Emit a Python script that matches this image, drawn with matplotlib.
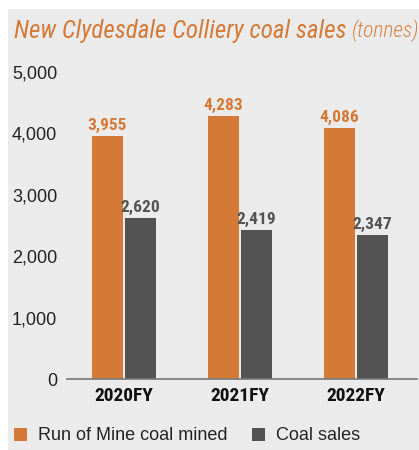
import matplotlib.pyplot as plt
import matplotlib.patches as mpatches
import numpy as np

years = ["2020FY", "2021FY", "2022FY"]
rom_mined = [3955, 4283, 4086]
coal_sales = [2620, 2419, 2347]
yticks = [0, 1000, 2000, 3000, 4000, 5000]

ORANGE = "#D47A36"
GREY = "#535353"
BG = "#EBEBEB"
COND = ['Roboto Condensed', 'DejaVu Sans']
PLAIN = ['Liberation Sans', 'DejaVu Sans']

plt.rcParams['font.family'] = PLAIN

fig = plt.figure(figsize=(4.19, 4.5), dpi=100, facecolor="white")
fig.patches.append(mpatches.Rectangle((8/419, 0), 1, 1 - 9/450, transform=fig.transFigure,
                                      facecolor=BG, edgecolor="none", zorder=-5))

ax = fig.add_axes([67/419, 71/450, 350/419, 307/450])
ax.patch.set_visible(False)

x = np.arange(len(years))
w = 0.267
gap = 0.009
b1 = ax.bar(x - w/2 - gap, rom_mined, w, color=ORANGE, label="Run of Mine coal mined")
b2 = ax.bar(x + w/2 + gap, coal_sales, w, color=GREY, label="Coal sales")

for bars, vals, c in [(b1, rom_mined, ORANGE), (b2, coal_sales, GREY)]:
    for rect, v in zip(bars, vals):
        ax.text(rect.get_x() + rect.get_width()/2, v + 50, f"{v:,}", ha="center", va="bottom",
                color=c, fontsize=12.5, fontweight="bold", family=COND)

ax.set_ylim(0, 5000)
ax.set_xlim(-0.49, 2.53)
ax.set_yticks(yticks)
ax.set_yticklabels([f"{t:,}" for t in yticks], fontsize=13, color="#222222")
ax.set_xticks(x)
ax.set_xticklabels(years, fontsize=14, fontweight="bold", color="#111111", family=COND)
ax.tick_params(length=0)
ax.tick_params(axis="y", pad=7)
ax.tick_params(axis="x", pad=6)
for s in ["top", "right", "left"]:
    ax.spines[s].set_visible(False)
ax.spines["bottom"].set_color("#777777")
ax.spines["bottom"].set_linewidth(1.2)

# title in two parts, second one placed right after the first
t1 = fig.text(14/419, 1 - 31/450, "New Clydesdale Colliery coal sales", color=ORANGE,
              fontsize=18, style="italic", va="center", ha="left", family=COND)
fig.canvas.draw()
bb = t1.get_window_extent()
fig.text((bb.x1 + 5)/419, 1 - 31/450, "(tonnes)", color=ORANGE, fontsize=15.5, style="italic",
         fontweight="light", va="center", ha="left", family=COND, alpha=0.9)

fig.legend(loc="center left", bbox_to_anchor=(7/419, 14/450), ncol=2, frameon=False,
           fontsize=13, handlelength=0.7, handleheight=0.7, handletextpad=0.6,
           columnspacing=1.4, labelcolor="#222222", borderaxespad=0)

fig.savefig("out.png", dpi=100, facecolor="white")
